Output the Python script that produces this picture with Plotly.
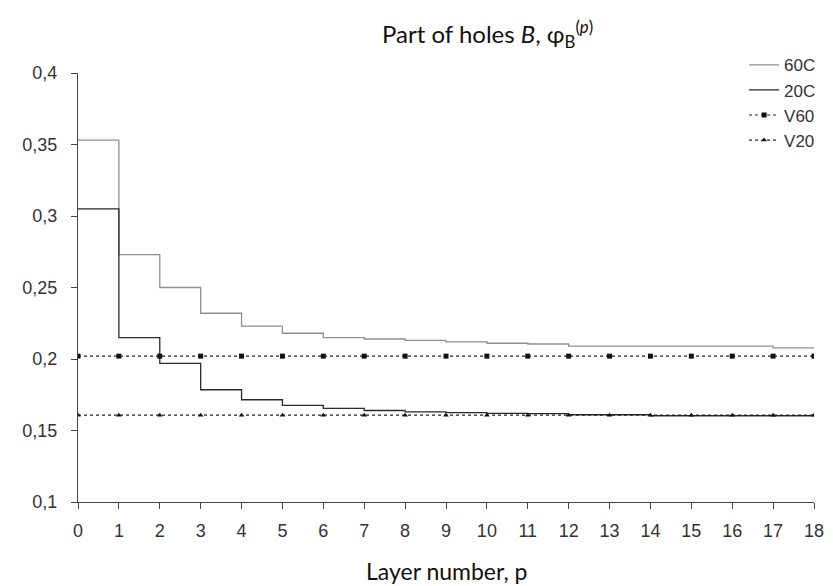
import plotly.graph_objects as go

layers = list(range(0, 19))
# step values per layer interval [p, p+1], p = 0..17
c60 = [0.353, 0.273, 0.250, 0.232, 0.223, 0.218, 0.215, 0.214, 0.213, 0.212,
       0.211, 0.2105, 0.209, 0.209, 0.209, 0.209, 0.209, 0.2078]
c20 = [0.305, 0.215, 0.197, 0.1785, 0.1715, 0.1675, 0.1655, 0.164, 0.163, 0.1625,
       0.162, 0.1618, 0.161, 0.161, 0.1603, 0.1603, 0.1603, 0.1603]
v60 = [0.202] * 19
v20 = [0.1607] * 19

ytickvals = [0.1, 0.15, 0.2, 0.25, 0.3, 0.35, 0.4]

fig = go.Figure()
fig.add_trace(go.Scatter(x=layers, y=c60 + [c60[-1]], mode="lines", name="60C",
                         line=dict(shape="hv", color="#8f8f8f", width=1.3)))
fig.add_trace(go.Scatter(x=layers, y=c20 + [c20[-1]], mode="lines", name="20C",
                         line=dict(shape="hv", color="#2a2a2a", width=1.3)))
fig.add_trace(go.Scatter(x=layers, y=v60, mode="lines+markers", name="V60",
                         line=dict(color="#222222", width=1.2, dash="dot"),
                         marker=dict(symbol="square", size=5, color="#111111")))
fig.add_trace(go.Scatter(x=layers, y=v20, mode="lines+markers", name="V20",
                         line=dict(color="#222222", width=1.2, dash="dot"),
                         marker=dict(symbol="triangle-up", size=5, color="#111111")))

fig.update_layout(
    width=833, height=586,
    margin=dict(l=70, r=27, t=65, b=92, autoexpand=False),
    paper_bgcolor="white", plot_bgcolor="white",
    separators=", ",
    font=dict(family="Liberation Sans", size=18, color="#333333"),
    showlegend=True,
    legend=dict(x=0.905, y=1.06, xanchor="left", yanchor="top",
                font=dict(family="Liberation Sans", size=17, color="#333333"),
                itemwidth=30, tracegroupgap=0, bgcolor="rgba(0,0,0,0)"),
    xaxis=dict(range=[0, 18], tickvals=layers, showgrid=False, zeroline=False,
               showline=True, linecolor="#444444", linewidth=1,
               ticks="outside", ticklen=6, tickcolor="#444444",
               ticklabelstandoff=6),
    yaxis=dict(range=[0.1, 0.4], tickvals=ytickvals, showgrid=False, zeroline=False,
               showline=True, linecolor="#444444", linewidth=1,
               ticks="outside", ticklen=6, tickcolor="#444444",
               ticklabelstandoff=10),
    annotations=[
        dict(text="Part of holes <i>B</i>, φ<sub>B</sub><sup>(<i>p</i>)</sup>",
             xref="paper", yref="paper", x=0.557, y=1.091, showarrow=False,
             xanchor="center", yanchor="middle",
             font=dict(family="Lato", size=24, color="#111111")),
        dict(text="Layer number, p", xref="paper", yref="paper", x=0.5, y=-0.197,
             showarrow=False, xanchor="center", yanchor="bottom",
             font=dict(family="Lato", size=23, color="#111111")),
    ],
)

fig.write_html("out.html")
